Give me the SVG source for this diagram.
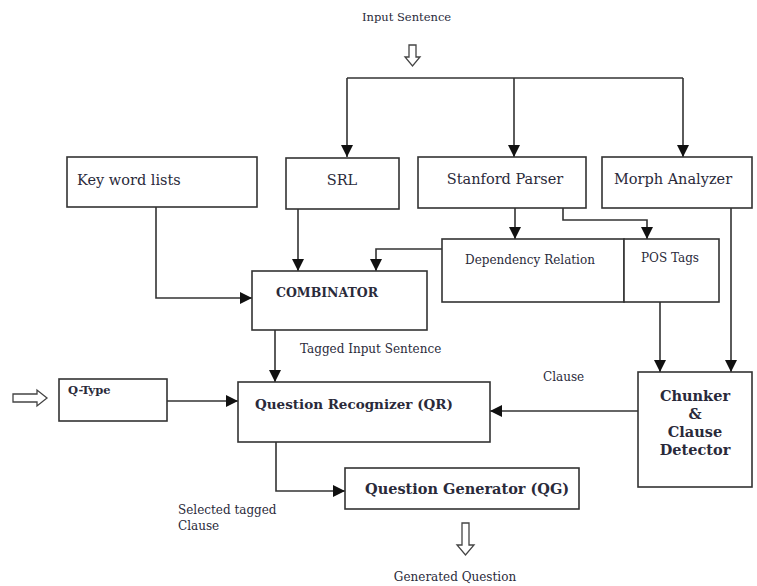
<svg xmlns="http://www.w3.org/2000/svg" width="757" height="586" viewBox="0 0 757 586">
<defs>
<marker id="ah" viewBox="0 0 12 12" refX="12" refY="6" markerWidth="12" markerHeight="12" markerUnits="userSpaceOnUse" orient="auto">
<path d="M0,0 L12,6 L0,12 z" fill="#111"/>
</marker>
</defs>
<style>
.box{fill:#fff;stroke:#333;stroke-width:1.6}
.ln{fill:none;stroke:#333;stroke-width:1.6}
.hol{fill:#fff;stroke:#444;stroke-width:1.3}
text{font-family:"DejaVu Serif","Liberation Serif",serif;fill:#2a2a3a}
.b{font-weight:bold}
</style>
<rect width="757" height="586" fill="#fff"/>

<text x="362" y="21" font-size="11.5">Input Sentence</text>
<path class="hol" d="M409,45 h7 v12 h4 l-7.5,9 l-7.5,-9 h4 z"/>

<g id="connectors">
<path class="ln" d="M347,78 H683"/>
<path class="ln" d="M347,78 V157" marker-end="url(#ah)"/>
<path class="ln" d="M514,78 V157" marker-end="url(#ah)"/>
<path class="ln" d="M683,78 V157" marker-end="url(#ah)"/>
<path class="ln" d="M515,208 V239" marker-end="url(#ah)"/>
<path class="ln" d="M563,208 V220 H647 V239" marker-end="url(#ah)"/>
<path class="ln" d="M731,208 V372" marker-end="url(#ah)"/>
<path class="ln" d="M660,302 V372" marker-end="url(#ah)"/>
<path class="ln" d="M442,249 H376 V271" marker-end="url(#ah)"/>
<path class="ln" d="M298,209 V271" marker-end="url(#ah)"/>
<path class="ln" d="M156,207 V298 H252" marker-end="url(#ah)"/>
<path class="ln" d="M275,330 V382" marker-end="url(#ah)"/>
<path class="ln" d="M167,401 H238" marker-end="url(#ah)"/>
<path class="ln" d="M638,411 H490" marker-end="url(#ah)"/>
<path class="ln" d="M276,442 V491 H345" marker-end="url(#ah)"/>
</g>

<g id="keyword">
<rect class="box" x="67" y="157" width="190" height="50"/>
<text x="77" y="185" font-size="14.5">Key word lists</text>
</g>
<g id="srl">
<rect class="box" x="286" y="158" width="113" height="51"/>
<text x="342" y="185" font-size="14.5" text-anchor="middle">SRL</text>
</g>
<g id="stanford">
<rect class="box" x="418" y="157" width="168" height="51"/>
<text x="505" y="184" font-size="14.5" text-anchor="middle">Stanford Parser</text>
</g>
<g id="morph">
<rect class="box" x="602" y="157" width="150" height="51"/>
<text x="673" y="184" font-size="14.5" text-anchor="middle">Morph Analyzer</text>
</g>
<g id="dependency">
<rect class="box" x="442" y="239" width="182" height="63"/>
<text x="530" y="264" font-size="12" text-anchor="middle">Dependency Relation</text>
</g>
<g id="pos">
<rect class="box" x="624" y="239" width="95" height="63"/>
<text x="670" y="262" font-size="12" text-anchor="middle">POS Tags</text>
</g>
<g id="combinator">
<rect class="box" x="252" y="271" width="175" height="59"/>
<text x="276" y="297" font-size="12.5" class="b">COMBINATOR</text>
</g>
<text x="300" y="353" font-size="12">Tagged Input Sentence</text>
<g id="qtype">
<rect class="box" x="59" y="379" width="108" height="42"/>
<text x="68" y="394" font-size="11.5" class="b">Q-Type</text>
</g>
<path class="hol" d="M13,394 h24 v-4 l10,8 l-10,8 v-4 h-24 z"/>
<g id="qr">
<rect class="box" x="238" y="382" width="252" height="60"/>
<text x="255" y="409" font-size="13.5" class="b">Question Recognizer (QR)</text>
</g>
<text x="543" y="381" font-size="12">Clause</text>
<g id="chunker">
<rect class="box" x="638" y="372" width="114" height="115"/>
<text x="695" y="401" font-size="14.5" class="b" text-anchor="middle">Chunker</text>
<text x="695" y="419" font-size="14.5" class="b" text-anchor="middle">&amp;</text>
<text x="695" y="437" font-size="14.5" class="b" text-anchor="middle">Clause</text>
<text x="695" y="455" font-size="14.5" class="b" text-anchor="middle">Detector</text>
</g>
<g id="qg">
<rect class="box" x="345" y="468" width="234" height="41"/>
<text x="365" y="494" font-size="14.5" class="b">Question Generator (QG)</text>
</g>
<text x="178" y="514" font-size="12">Selected tagged</text>
<text x="178" y="530" font-size="12">Clause</text>
<path class="hol" d="M462,523 h7 v22 h5 l-8.5,10 l-8.5,-10 h5 z"/>
<text x="455" y="581" font-size="12" text-anchor="middle">Generated Question</text>
</svg>
